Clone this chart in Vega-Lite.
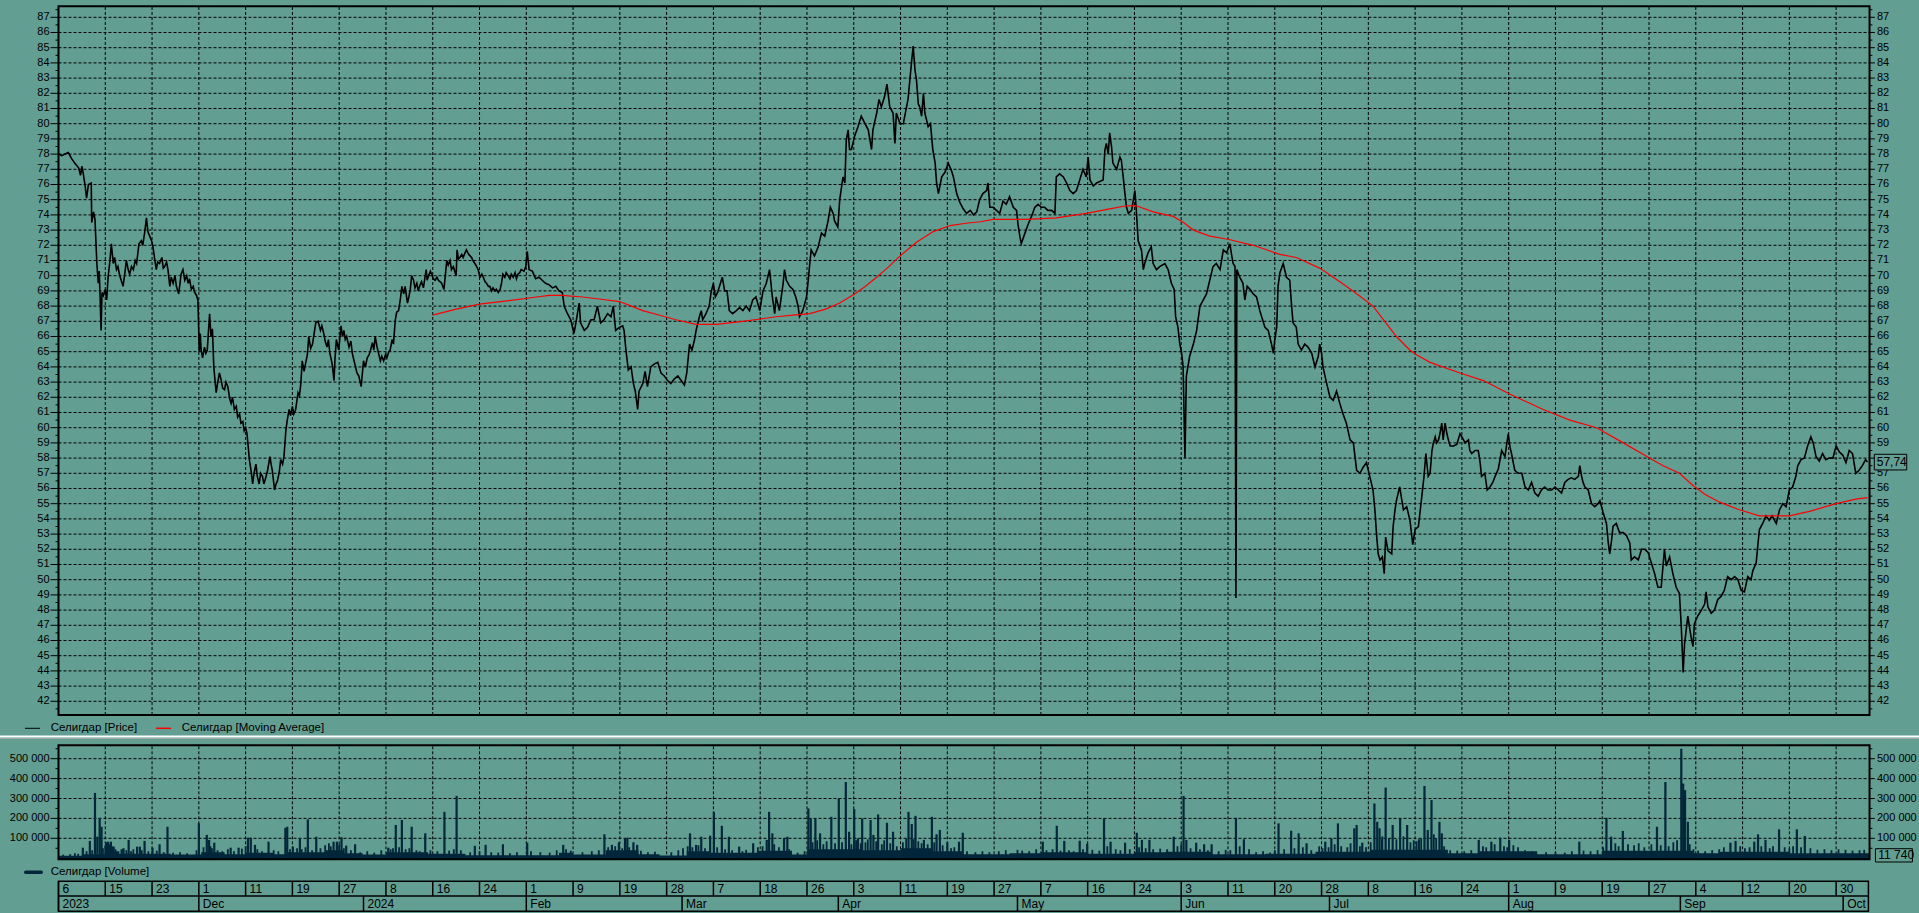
{
"$schema":"https://vega.github.io/schema/vega-lite/v6.json",
"width":1919,"height":913,"padding":0,"autosize":{"type":"none"},
"background":"#639E92",
"config":{"view":{"stroke":null},"text":{"font":"Liberation Sans","fontSize":11,"color":"#000"}},
"datasets":{
"price":[{"k":0,"p":78.0},{"k":0.07,"p":77.9},{"k":0.14,"p":78.0},{"k":0.21,"p":78.1},{"k":0.28,"p":77.7},{"k":0.35,"p":77.4},{"k":0.43,"p":77.1},{"k":0.47,"p":76.6},{"k":0.5,"p":77.2},{"k":0.53,"p":76.7},{"k":0.57,"p":75.9},{"k":0.6,"p":75.1},{"k":0.64,"p":76.0},{"k":0.7,"p":76.1},{"k":0.71,"p":73.5},{"k":0.75,"p":74.2},{"k":0.78,"p":73.7},{"k":0.82,"p":70.8},{"k":0.85,"p":69.5},{"k":0.87,"p":70.3},{"k":0.89,"p":68.6},{"k":0.91,"p":66.4},{"k":0.93,"p":68.9},{"k":0.96,"p":68.7},{"k":1.0,"p":69.1},{"k":1.03,"p":68.4},{"k":1.06,"p":69.9},{"k":1.1,"p":71.0},{"k":1.13,"p":72.1},{"k":1.17,"p":70.8},{"k":1.2,"p":71.2},{"k":1.24,"p":70.4},{"k":1.27,"p":70.6},{"k":1.31,"p":70.0},{"k":1.35,"p":69.6},{"k":1.38,"p":69.3},{"k":1.42,"p":70.2},{"k":1.45,"p":71.0},{"k":1.49,"p":70.4},{"k":1.52,"p":70.1},{"k":1.56,"p":70.6},{"k":1.6,"p":70.4},{"k":1.64,"p":71.0},{"k":1.67,"p":70.8},{"k":1.72,"p":72.1},{"k":1.77,"p":72.3},{"k":1.8,"p":72.0},{"k":1.84,"p":72.8},{"k":1.88,"p":73.8},{"k":1.91,"p":72.9},{"k":1.95,"p":72.6},{"k":1.99,"p":72.3},{"k":2.02,"p":71.9},{"k":2.06,"p":71.0},{"k":2.09,"p":70.4},{"k":2.12,"p":70.9},{"k":2.16,"p":70.8},{"k":2.21,"p":71.2},{"k":2.24,"p":70.5},{"k":2.27,"p":70.6},{"k":2.31,"p":70.9},{"k":2.34,"p":70.4},{"k":2.38,"p":69.3},{"k":2.41,"p":69.9},{"k":2.45,"p":69.5},{"k":2.49,"p":70.0},{"k":2.52,"p":69.3},{"k":2.57,"p":68.8},{"k":2.62,"p":70.1},{"k":2.66,"p":70.4},{"k":2.7,"p":69.7},{"k":2.74,"p":70.0},{"k":2.77,"p":69.5},{"k":2.8,"p":69.8},{"k":2.84,"p":69.1},{"k":2.88,"p":69.3},{"k":2.91,"p":68.9},{"k":2.95,"p":68.7},{"k":2.98,"p":68.4},{"k":3.01,"p":65.0},{"k":3.03,"p":66.2},{"k":3.05,"p":65.1},{"k":3.08,"p":64.6},{"k":3.12,"p":65.3},{"k":3.15,"p":64.9},{"k":3.18,"p":65.1},{"k":3.23,"p":67.5},{"k":3.26,"p":66.0},{"k":3.29,"p":66.5},{"k":3.32,"p":64.0},{"k":3.37,"p":62.3},{"k":3.4,"p":62.9},{"k":3.44,"p":63.6},{"k":3.48,"p":63.1},{"k":3.51,"p":62.6},{"k":3.55,"p":62.5},{"k":3.58,"p":63.0},{"k":3.62,"p":62.7},{"k":3.66,"p":61.9},{"k":3.69,"p":61.6},{"k":3.72,"p":62.0},{"k":3.76,"p":61.2},{"k":3.8,"p":61.4},{"k":3.83,"p":60.7},{"k":3.87,"p":60.9},{"k":3.9,"p":60.3},{"k":3.94,"p":60.4},{"k":3.97,"p":59.8},{"k":4.0,"p":60.0},{"k":4.03,"p":59.6},{"k":4.06,"p":58.6},{"k":4.08,"p":57.9},{"k":4.12,"p":57.1},{"k":4.15,"p":56.3},{"k":4.18,"p":57.0},{"k":4.22,"p":57.6},{"k":4.25,"p":56.8},{"k":4.29,"p":56.3},{"k":4.32,"p":57.0},{"k":4.36,"p":56.8},{"k":4.39,"p":56.3},{"k":4.43,"p":56.7},{"k":4.47,"p":57.2},{"k":4.52,"p":58.1},{"k":4.55,"p":57.5},{"k":4.57,"p":57.2},{"k":4.6,"p":56.4},{"k":4.62,"p":55.9},{"k":4.65,"p":56.3},{"k":4.68,"p":56.5},{"k":4.72,"p":57.1},{"k":4.75,"p":57.9},{"k":4.79,"p":57.6},{"k":4.82,"p":58.1},{"k":4.86,"p":59.8},{"k":4.89,"p":60.5},{"k":4.93,"p":61.2},{"k":4.96,"p":60.8},{"k":5.0,"p":61.4},{"k":5.03,"p":60.9},{"k":5.07,"p":61.2},{"k":5.12,"p":62.3},{"k":5.15,"p":62.1},{"k":5.18,"p":62.9},{"k":5.21,"p":64.4},{"k":5.25,"p":63.7},{"k":5.28,"p":64.2},{"k":5.32,"p":64.8},{"k":5.35,"p":66.0},{"k":5.39,"p":65.2},{"k":5.43,"p":65.5},{"k":5.46,"p":66.1},{"k":5.5,"p":66.9},{"k":5.55,"p":67.0},{"k":5.6,"p":66.4},{"k":5.63,"p":66.7},{"k":5.67,"p":66.2},{"k":5.7,"p":65.7},{"k":5.74,"p":65.3},{"k":5.77,"p":65.8},{"k":5.8,"p":64.9},{"k":5.85,"p":64.2},{"k":5.89,"p":63.1},{"k":5.91,"p":64.5},{"k":5.94,"p":65.8},{"k":5.99,"p":65.1},{"k":6.04,"p":66.7},{"k":6.07,"p":66.0},{"k":6.1,"p":66.4},{"k":6.13,"p":65.8},{"k":6.16,"p":66.0},{"k":6.21,"p":65.3},{"k":6.25,"p":65.7},{"k":6.28,"p":64.9},{"k":6.31,"p":64.5},{"k":6.35,"p":64.0},{"k":6.38,"p":63.6},{"k":6.42,"p":63.4},{"k":6.47,"p":62.7},{"k":6.52,"p":64.4},{"k":6.56,"p":64.0},{"k":6.6,"p":64.6},{"k":6.64,"p":64.8},{"k":6.67,"p":65.1},{"k":6.71,"p":65.6},{"k":6.74,"p":65.1},{"k":6.77,"p":66.0},{"k":6.81,"p":65.3},{"k":6.85,"p":64.8},{"k":6.88,"p":64.4},{"k":6.91,"p":64.7},{"k":6.95,"p":64.4},{"k":6.99,"p":64.8},{"k":7.02,"p":64.6},{"k":7.06,"p":65.0},{"k":7.09,"p":65.1},{"k":7.13,"p":65.8},{"k":7.16,"p":65.5},{"k":7.2,"p":67.1},{"k":7.23,"p":67.6},{"k":7.27,"p":67.7},{"k":7.31,"p":68.5},{"k":7.34,"p":69.3},{"k":7.38,"p":68.8},{"k":7.41,"p":69.3},{"k":7.46,"p":68.2},{"k":7.49,"p":68.6},{"k":7.52,"p":69.1},{"k":7.55,"p":70.0},{"k":7.59,"p":69.7},{"k":7.62,"p":69.2},{"k":7.66,"p":69.5},{"k":7.69,"p":69.0},{"k":7.73,"p":69.4},{"k":7.76,"p":69.6},{"k":7.8,"p":69.2},{"k":7.86,"p":70.4},{"k":7.88,"p":69.7},{"k":7.91,"p":70.0},{"k":7.95,"p":70.3},{"k":7.98,"p":70.1},{"k":8.01,"p":69.8},{"k":8.05,"p":69.7},{"k":8.09,"p":69.9},{"k":8.12,"p":69.7},{"k":8.16,"p":69.6},{"k":8.19,"p":69.5},{"k":8.24,"p":69.1},{"k":8.3,"p":71.0},{"k":8.33,"p":70.7},{"k":8.37,"p":71.0},{"k":8.4,"p":70.4},{"k":8.44,"p":70.6},{"k":8.48,"p":70.2},{"k":8.5,"p":70.0},{"k":8.52,"p":71.7},{"k":8.55,"p":71.1},{"k":8.58,"p":71.2},{"k":8.62,"p":71.4},{"k":8.65,"p":71.2},{"k":8.69,"p":71.5},{"k":8.72,"p":71.7},{"k":8.77,"p":71.4},{"k":8.83,"p":71.2},{"k":8.86,"p":71.0},{"k":8.9,"p":70.8},{"k":8.94,"p":70.6},{"k":8.97,"p":70.4},{"k":9.01,"p":69.9},{"k":9.05,"p":70.1},{"k":9.08,"p":69.9},{"k":9.12,"p":69.6},{"k":9.15,"p":69.5},{"k":9.19,"p":69.3},{"k":9.22,"p":69.3},{"k":9.26,"p":69.0},{"k":9.29,"p":69.2},{"k":9.33,"p":69.0},{"k":9.36,"p":69.1},{"k":9.4,"p":68.9},{"k":9.44,"p":69.1},{"k":9.47,"p":69.5},{"k":9.5,"p":70.1},{"k":9.54,"p":69.9},{"k":9.57,"p":70.2},{"k":9.61,"p":70.0},{"k":9.65,"p":69.8},{"k":9.68,"p":70.1},{"k":9.72,"p":69.9},{"k":9.76,"p":70.2},{"k":9.79,"p":69.8},{"k":9.82,"p":70.1},{"k":9.86,"p":70.2},{"k":9.89,"p":70.4},{"k":9.95,"p":70.3},
{"k":9.99,"p":70.6},{"k":10.02,"p":71.6},{"k":10.06,"p":70.4},{"k":10.13,"p":70.3},{"k":10.2,"p":69.8},{"k":10.27,"p":69.9},{"k":10.34,"p":69.7},{"k":10.41,"p":69.5},{"k":10.49,"p":69.4},{"k":10.56,"p":69.2},{"k":10.63,"p":69.3},{"k":10.7,"p":69.0},{"k":10.77,"p":68.9},{"k":10.81,"p":68.0},{"k":10.88,"p":67.5},{"k":10.95,"p":67.1},{"k":11.02,"p":66.2},{"k":11.06,"p":66.9},{"k":11.13,"p":68.2},{"k":11.16,"p":66.9},{"k":11.24,"p":66.4},{"k":11.31,"p":66.6},{"k":11.38,"p":67.1},{"k":11.45,"p":67.1},{"k":11.52,"p":68.0},{"k":11.59,"p":66.9},{"k":11.66,"p":67.1},{"k":11.74,"p":67.5},{"k":11.81,"p":67.3},{"k":11.86,"p":68.0},{"k":11.91,"p":66.4},{"k":11.99,"p":66.6},{"k":12.06,"p":66.7},{"k":12.09,"p":66.4},{"k":12.13,"p":65.1},{"k":12.18,"p":63.8},{"k":12.24,"p":64.0},{"k":12.29,"p":62.9},{"k":12.33,"p":62.4},{"k":12.38,"p":61.2},{"k":12.41,"p":62.4},{"k":12.49,"p":62.9},{"k":12.54,"p":63.7},{"k":12.59,"p":62.7},{"k":12.66,"p":64.0},{"k":12.74,"p":64.2},{"k":12.81,"p":64.3},{"k":12.88,"p":63.6},{"k":12.95,"p":63.4},{"k":13.02,"p":63.1},{"k":13.09,"p":62.9},{"k":13.16,"p":63.2},{"k":13.24,"p":63.4},{"k":13.31,"p":63.1},{"k":13.38,"p":62.8},{"k":13.43,"p":63.6},{"k":13.49,"p":65.5},{"k":13.54,"p":65.1},{"k":13.59,"p":65.7},{"k":13.63,"p":66.4},{"k":13.66,"p":66.8},{"k":13.7,"p":67.3},{"k":13.74,"p":67.7},{"k":13.77,"p":67.1},{"k":13.84,"p":67.5},{"k":13.91,"p":68.0},{"k":13.95,"p":68.9},{"k":14.0,"p":69.5},{"k":14.04,"p":68.6},{"k":14.09,"p":68.9},{"k":14.13,"p":69.3},{"k":14.19,"p":69.9},{"k":14.24,"p":69.0},{"k":14.29,"p":69.0},{"k":14.34,"p":67.7},{"k":14.41,"p":67.5},{"k":14.49,"p":67.7},{"k":14.56,"p":67.9},{"k":14.63,"p":67.7},{"k":14.7,"p":68.0},{"k":14.77,"p":67.7},{"k":14.84,"p":68.4},{"k":14.91,"p":68.6},{"k":14.99,"p":67.7},{"k":15.06,"p":69.0},{"k":15.13,"p":69.5},{"k":15.2,"p":70.4},{"k":15.26,"p":68.6},{"k":15.31,"p":67.5},{"k":15.34,"p":68.6},{"k":15.41,"p":67.7},{"k":15.49,"p":69.5},{"k":15.52,"p":70.4},{"k":15.56,"p":69.7},{"k":15.63,"p":69.3},{"k":15.7,"p":69.1},{"k":15.76,"p":68.6},{"k":15.81,"p":68.0},{"k":15.84,"p":67.3},{"k":15.91,"p":67.7},{"k":15.99,"p":68.6},{"k":16.02,"p":69.5},{"k":16.06,"p":70.8},{"k":16.09,"p":71.7},{"k":16.16,"p":71.3},{"k":16.24,"p":71.9},{"k":16.31,"p":72.8},{"k":16.38,"p":72.6},{"k":16.45,"p":73.6},{"k":16.5,"p":74.5},{"k":16.56,"p":74.1},{"k":16.59,"p":73.6},{"k":16.66,"p":73.2},{"k":16.7,"p":75.0},{"k":16.77,"p":76.5},{"k":16.81,"p":76.1},{"k":16.84,"p":78.9},{"k":16.88,"p":79.6},{"k":16.91,"p":78.3},{"k":16.95,"p":78.3},{"k":17.02,"p":79.2},{"k":17.09,"p":79.8},{"k":17.16,"p":80.5},{"k":17.24,"p":80.0},{"k":17.31,"p":79.6},{"k":17.38,"p":78.3},{"k":17.41,"p":79.6},{"k":17.49,"p":80.7},{"k":17.54,"p":81.6},{"k":17.59,"p":81.1},{"k":17.66,"p":81.8},{"k":17.71,"p":82.6},{"k":17.77,"p":81.1},{"k":17.84,"p":80.7},{"k":17.88,"p":78.7},{"k":17.91,"p":80.7},{"k":17.99,"p":80.0},{"k":18.06,"p":80.0},{"k":18.09,"p":80.5},{"k":18.16,"p":81.6},{"k":18.2,"p":82.9},{"k":18.24,"p":84.2},{"k":18.27,"p":85.1},{"k":18.31,"p":83.5},{"k":18.34,"p":82.9},{"k":18.38,"p":81.3},{"k":18.41,"p":81.1},{"k":18.45,"p":80.5},{"k":18.49,"p":82.0},{"k":18.52,"p":80.7},{"k":18.59,"p":79.8},{"k":18.64,"p":80.0},{"k":18.69,"p":78.3},{"k":18.74,"p":77.4},{"k":18.77,"p":76.1},{"k":18.81,"p":75.4},{"k":18.88,"p":76.5},{"k":18.95,"p":76.8},{"k":19.02,"p":77.4},{"k":19.09,"p":76.9},{"k":19.13,"p":76.5},{"k":19.2,"p":75.4},{"k":19.27,"p":74.8},{"k":19.34,"p":74.4},{"k":19.41,"p":74.1},{"k":19.49,"p":74.3},{"k":19.56,"p":74.0},{"k":19.63,"p":74.2},
{"k":19.69,"p":75.0},{"k":19.76,"p":75.4},{"k":19.84,"p":75.6},{"k":19.87,"p":76.1},{"k":19.91,"p":74.5},{"k":19.98,"p":74.5},{"k":20.05,"p":74.3},{"k":20.12,"p":74.1},{"k":20.19,"p":74.9},{"k":20.26,"p":74.7},{"k":20.33,"p":75.2},{"k":20.41,"p":74.5},{"k":20.48,"p":74.3},{"k":20.51,"p":73.4},{"k":20.55,"p":72.6},{"k":20.58,"p":72.1},{"k":20.66,"p":72.8},{"k":20.73,"p":73.4},{"k":20.8,"p":73.9},{"k":20.87,"p":74.5},{"k":20.94,"p":74.7},{"k":21.01,"p":74.5},{"k":21.08,"p":74.5},{"k":21.15,"p":74.3},{"k":21.23,"p":74.3},{"k":21.3,"p":74.1},{"k":21.33,"p":76.5},{"k":21.4,"p":76.7},{"k":21.48,"p":76.5},{"k":21.55,"p":76.1},{"k":21.62,"p":75.6},{"k":21.69,"p":75.4},{"k":21.76,"p":75.6},{"k":21.83,"p":76.3},{"k":21.9,"p":77.0},{"k":21.97,"p":76.5},{"k":22.01,"p":77.8},{"k":22.05,"p":76.3},{"k":22.12,"p":75.9},{"k":22.19,"p":76.1},{"k":22.26,"p":76.2},{"k":22.33,"p":76.3},{"k":22.37,"p":78.3},{"k":22.4,"p":78.7},{"k":22.44,"p":78.0},{"k":22.47,"p":79.4},{"k":22.51,"p":78.5},{"k":22.54,"p":77.4},{"k":22.62,"p":77.0},{"k":22.69,"p":77.8},{"k":22.72,"p":77.6},{"k":22.76,"p":76.5},{"k":22.79,"p":75.6},{"k":22.83,"p":74.5},{"k":22.87,"p":74.1},{"k":22.94,"p":74.3},{"k":23.01,"p":75.6},{"k":23.04,"p":74.3},{"k":23.08,"p":72.3},{"k":23.15,"p":71.7},{"k":23.19,"p":70.4},{"k":23.22,"p":70.8},{"k":23.29,"p":71.5},{"k":23.36,"p":71.9},{"k":23.4,"p":70.8},{"k":23.47,"p":70.4},{"k":23.54,"p":70.6},{"k":23.65,"p":70.8},{"k":23.72,"p":70.4},{"k":23.79,"p":69.5},{"k":23.85,"p":69.1},{"k":23.88,"p":67.3},{"k":23.93,"p":66.6},{"k":23.97,"p":65.5},{"k":24.01,"p":64.9},{"k":24.04,"p":64.0},{"k":24.08,"p":58.0},{"k":24.11,"p":63.4},{"k":24.18,"p":64.7},{"k":24.26,"p":65.5},{"k":24.33,"p":66.4},{"k":24.4,"p":68.0},{"k":24.47,"p":68.4},{"k":24.54,"p":68.8},{"k":24.61,"p":69.7},{"k":24.68,"p":70.6},{"k":24.75,"p":70.8},{"k":24.83,"p":70.4},{"k":24.9,"p":71.7},{"k":24.97,"p":71.5},{"k":25.04,"p":72.1},{"k":25.07,"p":71.5},{"k":25.11,"p":70.8},{"k":25.15,"p":70.6},{"k":25.17,"p":48.8},{"k":25.19,"p":70.4},{"k":25.25,"p":69.9},{"k":25.32,"p":69.5},{"k":25.36,"p":68.4},{"k":25.41,"p":69.3},{"k":25.47,"p":69.1},{"k":25.54,"p":68.8},{"k":25.61,"p":68.6},{"k":25.68,"p":67.7},{"k":25.72,"p":67.3},{"k":25.79,"p":66.6},{"k":25.86,"p":66.4},{"k":25.93,"p":65.5},{"k":25.97,"p":64.9},{"k":26.0,"p":65.8},{"k":26.04,"p":66.6},{"k":26.07,"p":69.3},{"k":26.11,"p":70.2},{"k":26.18,"p":70.8},{"k":26.25,"p":69.9},{"k":26.32,"p":69.7},{"k":26.36,"p":68.0},{"k":26.39,"p":66.9},{"k":26.46,"p":66.6},{"k":26.5,"p":65.5},{"k":26.57,"p":65.1},{"k":26.64,"p":65.5},{"k":26.71,"p":65.3},{"k":26.79,"p":64.9},{"k":26.86,"p":64.0},{"k":26.93,"p":64.7},{"k":26.96,"p":65.5},{"k":27.0,"p":64.9},{"k":27.03,"p":64.0},{"k":27.11,"p":62.9},{"k":27.18,"p":62.0},{"k":27.25,"p":61.8},{"k":27.32,"p":62.4},{"k":27.39,"p":61.6},{"k":27.46,"p":60.9},{"k":27.53,"p":60.3},{"k":27.61,"p":59.2},{"k":27.68,"p":59.0},{"k":27.75,"p":57.2},{"k":27.82,"p":57.0},{"k":27.89,"p":57.4},{"k":27.96,"p":57.7},{"k":28.03,"p":56.8},{"k":28.1,"p":55.9},{"k":28.14,"p":54.6},{"k":28.18,"p":52.8},{"k":28.21,"p":51.7},{"k":28.25,"p":51.3},{"k":28.3,"p":51.5},{"k":28.34,"p":50.4},{"k":28.37,"p":52.8},{"k":28.42,"p":51.9},{"k":28.5,"p":51.7},{"k":28.53,"p":53.5},{"k":28.57,"p":54.6},{"k":28.6,"p":55.2},{"k":28.67,"p":56.1},{"k":28.75,"p":54.6},{"k":28.82,"p":54.8},{"k":28.89,"p":53.9},{"k":28.95,"p":52.3},{"k":29.0,"p":53.3},{"k":29.07,"p":53.5},{"k":29.14,"p":55.4},{"k":29.19,"p":56.8},{"k":29.23,"p":58.3},
{"k":29.28,"p":56.8},{"k":29.32,"p":57.0},{"k":29.36,"p":58.5},{"k":29.39,"p":59.0},{"k":29.43,"p":59.4},{"k":29.46,"p":59.0},{"k":29.5,"p":59.2},{"k":29.53,"p":59.6},{"k":29.57,"p":60.3},{"k":29.6,"p":59.2},{"k":29.64,"p":60.3},{"k":29.68,"p":59.6},{"k":29.71,"p":59.2},{"k":29.75,"p":58.8},{"k":29.82,"p":58.8},{"k":29.89,"p":58.9},{"k":29.96,"p":59.6},{"k":30.0,"p":59.4},{"k":30.07,"p":59.0},{"k":30.14,"p":59.2},{"k":30.17,"p":58.5},{"k":30.21,"p":58.3},{"k":30.28,"p":58.5},{"k":30.35,"p":58.5},{"k":30.39,"p":57.7},{"k":30.42,"p":56.8},{"k":30.49,"p":57.0},{"k":30.54,"p":55.9},{"k":30.6,"p":56.1},{"k":30.66,"p":56.4},{"k":30.71,"p":56.8},{"k":30.78,"p":57.3},{"k":30.85,"p":58.5},{"k":30.92,"p":58.1},{"k":30.99,"p":59.6},{"k":31.03,"p":58.7},{"k":31.06,"p":58.3},{"k":31.13,"p":57.2},{"k":31.2,"p":57.0},{"k":31.28,"p":57.0},{"k":31.35,"p":56.1},{"k":31.42,"p":55.9},{"k":31.49,"p":56.4},{"k":31.56,"p":55.7},{"k":31.63,"p":55.5},{"k":31.7,"p":55.9},{"k":31.77,"p":56.1},{"k":31.84,"p":55.9},{"k":31.92,"p":55.9},{"k":31.99,"p":56.1},{"k":32.06,"p":55.9},{"k":32.13,"p":55.7},{"k":32.2,"p":56.4},{"k":32.27,"p":56.6},{"k":32.34,"p":56.7},{"k":32.41,"p":56.6},{"k":32.49,"p":56.8},{"k":32.52,"p":57.5},{"k":32.56,"p":56.8},{"k":32.59,"p":56.4},{"k":32.63,"p":56.1},{"k":32.7,"p":55.9},{"k":32.77,"p":55.0},{"k":32.84,"p":54.8},{"k":32.91,"p":55.0},{"k":32.95,"p":55.2},{"k":33.02,"p":54.4},{"k":33.09,"p":53.7},{"k":33.13,"p":52.4},{"k":33.16,"p":51.7},{"k":33.2,"p":52.6},{"k":33.23,"p":53.5},{"k":33.3,"p":53.7},{"k":33.37,"p":53.1},{"k":33.45,"p":53.1},{"k":33.52,"p":52.9},{"k":33.59,"p":52.4},{"k":33.62,"p":51.3},{"k":33.69,"p":51.5},{"k":33.77,"p":51.3},{"k":33.84,"p":52.0},{"k":33.91,"p":52.0},{"k":33.98,"p":51.8},{"k":34.05,"p":51.1},{"k":34.12,"p":50.4},{"k":34.19,"p":49.5},{"k":34.26,"p":49.5},{"k":34.33,"p":52.0},{"k":34.37,"p":50.9},{"k":34.44,"p":51.5},{"k":34.51,"p":50.4},{"k":34.58,"p":49.5},{"k":34.65,"p":49.1},{"k":34.69,"p":46.9},{"k":34.73,"p":43.9},{"k":34.76,"p":45.8},{"k":34.83,"p":47.6},{"k":34.9,"p":46.2},{"k":34.94,"p":45.6},{"k":34.97,"p":47.1},{"k":35.04,"p":47.6},{"k":35.12,"p":48.0},{"k":35.19,"p":48.4},{"k":35.22,"p":49.2},{"k":35.26,"p":48.2},{"k":35.33,"p":47.8},{"k":35.4,"p":48.0},{"k":35.47,"p":48.7},{"k":35.54,"p":48.9},{"k":35.61,"p":49.3},{"k":35.68,"p":50.2},{"k":35.76,"p":50.0},{"k":35.83,"p":50.2},{"k":35.9,"p":50.0},{"k":35.97,"p":49.3},{"k":36.04,"p":49.2},{"k":36.11,"p":50.2},{"k":36.18,"p":50.0},{"k":36.22,"p":50.6},{"k":36.29,"p":51.1},{"k":36.33,"p":52.4},{"k":36.36,"p":53.3},{"k":36.43,"p":53.7},{"k":36.5,"p":54.2},{"k":36.57,"p":53.9},{"k":36.63,"p":54.2},{"k":36.72,"p":53.7},{"k":36.79,"p":54.6},{"k":36.86,"p":55.0},{"k":36.93,"p":54.8},{"k":37.0,"p":55.9},{"k":37.07,"p":56.1},{"k":37.14,"p":56.8},{"k":37.18,"p":57.5},{"k":37.25,"p":57.9},{"k":37.32,"p":58.0},{"k":37.39,"p":58.8},{"k":37.46,"p":59.4},{"k":37.51,"p":59.0},{"k":37.57,"p":58.1},{"k":37.64,"p":57.8},{"k":37.71,"p":58.3},{"k":37.78,"p":57.9},{"k":37.85,"p":58.0},{"k":37.93,"p":58.0},{"k":38.0,"p":58.8},{"k":38.07,"p":58.4},{"k":38.14,"p":58.2},{"k":38.21,"p":57.7},{"k":38.28,"p":58.5},{"k":38.35,"p":58.3},{"k":38.42,"p":57.0},{"k":38.49,"p":57.2},{"k":38.56,"p":57.5},{"k":38.63,"p":57.9},{"k":38.67,"p":57.74}],
"ma":[{"k":8.0,"m":67.41},{"k":8.5,"m":67.8},{"k":9.0,"m":68.13},{"k":9.63,"m":68.36},{"k":10.1,"m":68.55},{"k":10.49,"m":68.7},{"k":10.77,"m":68.7},{"k":11.2,"m":68.6},{"k":11.6,"m":68.45},{"k":11.99,"m":68.3},{"k":12.25,"m":68.0},{"k":12.49,"m":67.7},{"k":12.85,"m":67.4},{"k":13.2,"m":67.1},{"k":13.63,"m":66.8},{"k":14.06,"m":66.8},{"k":14.63,"m":67.0},{"k":15.0,"m":67.15},{"k":15.34,"m":67.3},{"k":15.7,"m":67.4},{"k":16.06,"m":67.5},{"k":16.4,"m":67.8},{"k":16.7,"m":68.2},{"k":17.02,"m":68.8},{"k":17.25,"m":69.3},{"k":17.49,"m":69.9},{"k":17.75,"m":70.6},{"k":17.99,"m":71.3},{"k":18.34,"m":72.2},{"k":18.7,"m":72.9},{"k":19.06,"m":73.3},{"k":19.4,"m":73.45},{"k":19.7,"m":73.55},{"k":19.98,"m":73.7},{"k":20.69,"m":73.7},{"k":21.33,"m":73.8},{"k":21.97,"m":74.1},{"k":22.47,"m":74.4},{"k":22.83,"m":74.6},{"k":23.04,"m":74.6},{"k":23.4,"m":74.2},{"k":23.83,"m":73.9},{"k":24.05,"m":73.5},{"k":24.26,"m":73.0},{"k":24.61,"m":72.6},{"k":25.0,"m":72.4},{"k":25.54,"m":72.0},{"k":26.11,"m":71.4},{"k":26.46,"m":71.2},{"k":26.96,"m":70.5},{"k":27.25,"m":69.9},{"k":27.53,"m":69.3},{"k":27.8,"m":68.7},{"k":28.1,"m":68.0},{"k":28.35,"m":67.0},{"k":28.6,"m":66.0},{"k":28.89,"m":65.1},{"k":29.03,"m":64.8},{"k":29.32,"m":64.3},{"k":29.96,"m":63.6},{"k":30.46,"m":63.1},{"k":31.03,"m":62.2},{"k":31.74,"m":61.2},{"k":32.31,"m":60.5},{"k":32.88,"m":60.0},{"k":33.45,"m":59.0},{"k":34.01,"m":58.0},{"k":34.3,"m":57.5},{"k":34.65,"m":57.0},{"k":34.94,"m":56.2},{"k":35.2,"m":55.6},{"k":35.51,"m":55.1},{"k":35.93,"m":54.6},{"k":36.36,"m":54.2},{"k":37.0,"m":54.2},{"k":37.43,"m":54.5},{"k":38.0,"m":55.0},{"k":38.42,"m":55.3},{"k":38.67,"m":55.4}],
"volbase":[{"k":0,"v":12000},{"k":0.5,"v":20000},{"k":1.0,"v":35000},{"k":1.3,"v":22000},{"k":2.4,"v":18000},{"k":3.05,"v":30000},{"k":3.55,"v":20000},{"k":4.0,"v":28000},{"k":4.6,"v":20000},{"k":4.9,"v":30000},{"k":5.7,"v":40000},{"k":6.1,"v":25000},{"k":6.5,"v":18000},{"k":7.0,"v":30000},{"k":7.9,"v":22000},{"k":8.7,"v":15000},{"k":10.7,"v":28000},{"k":11.0,"v":18000},{"k":11.7,"v":40000},{"k":12.4,"v":20000},{"k":12.85,"v":14000},{"k":13.43,"v":35000},{"k":13.93,"v":28000},{"k":14.93,"v":38000},{"k":15.68,"v":18000},{"k":16.01,"v":45000},{"k":17.17,"v":40000},{"k":18.0,"v":50000},{"k":18.67,"v":35000},{"k":19.33,"v":20000},{"k":20.33,"v":25000},{"k":21.0,"v":30000},{"k":22.0,"v":22000},{"k":23.0,"v":30000},{"k":23.66,"v":33000},{"k":24.65,"v":20000},{"k":25.8,"v":22000},{"k":26.87,"v":33000},{"k":28.04,"v":42000},{"k":29.7,"v":25000},{"k":30.36,"v":35000},{"k":31.61,"v":20000},{"k":33.02,"v":38000},{"k":34.94,"v":25000},{"k":35.52,"v":33000},{"k":37.01,"v":25000},{"k":38.714,"v":25000}],
"volmid":[{"k":0.1,"v":18000},{"k":0.25,"v":20000},{"k":0.35,"v":25000},{"k":0.42,"v":22000},{"k":0.6,"v":35000},{"k":0.72,"v":40000},{"k":0.95,"v":50000},{"k":1.0,"v":65000},{"k":1.1,"v":70000},{"k":1.15,"v":60000},{"k":1.22,"v":45000},{"k":1.45,"v":40000},{"k":1.55,"v":35000},{"k":1.6,"v":45000},{"k":1.78,"v":40000},{"k":1.92,"v":35000},{"k":2.1,"v":38000},{"k":2.25,"v":30000},{"k":2.45,"v":28000},{"k":2.6,"v":30000},{"k":2.75,"v":25000},{"k":2.95,"v":40000},{"k":3.1,"v":55000},{"k":3.25,"v":60000},{"k":3.28,"v":50000},{"k":3.4,"v":40000},{"k":3.5,"v":35000},{"k":3.62,"v":45000},{"k":3.75,"v":35000},{"k":3.92,"v":48000},{"k":4.0,"v":60000},{"k":4.25,"v":45000},{"k":4.35,"v":35000},{"k":4.6,"v":40000},{"k":4.7,"v":35000},{"k":4.95,"v":45000},{"k":5.1,"v":50000},{"k":5.2,"v":45000},{"k":5.28,"v":55000},{"k":5.42,"v":40000},{"k":5.6,"v":50000},{"k":5.7,"v":65000},{"k":5.78,"v":75000},{"k":5.82,"v":60000},{"k":6.0,"v":70000},{"k":6.1,"v":50000},{"k":6.25,"v":40000},{"k":6.45,"v":30000},{"k":6.6,"v":35000},{"k":6.75,"v":28000},{"k":6.9,"v":40000},{"k":7.1,"v":45000},{"k":7.15,"v":50000},{"k":7.28,"v":55000},{"k":7.42,"v":45000},{"k":7.5,"v":50000},{"k":7.65,"v":40000},{"k":7.72,"v":35000},{"k":7.95,"v":40000},{"k":8.1,"v":35000},{"k":8.35,"v":38000},{"k":8.45,"v":45000},{"k":8.6,"v":40000},{"k":8.8,"v":30000},{"k":9.0,"v":35000},{"k":9.25,"v":30000},{"k":9.4,"v":28000},{"k":9.65,"v":25000},{"k":9.8,"v":30000},{"k":10.1,"v":35000},{"k":10.3,"v":30000},{"k":10.5,"v":28000},{"k":10.65,"v":40000},{"k":10.85,"v":45000},{"k":10.95,"v":38000},{"k":11.2,"v":30000},{"k":11.4,"v":35000},{"k":11.55,"v":40000},{"k":11.75,"v":55000},{"k":11.9,"v":60000},{"k":12.05,"v":50000},{"k":12.2,"v":55000},{"k":12.45,"v":38000},{"k":12.6,"v":30000},{"k":12.75,"v":32000},{"k":13.1,"v":30000},{"k":13.25,"v":40000},{"k":13.35,"v":50000},{"k":13.45,"v":60000},{"k":13.55,"v":55000},{"k":13.68,"v":65000},{"k":13.82,"v":50000},{"k":14.08,"v":55000},{"k":14.25,"v":45000},{"k":14.4,"v":40000},{"k":14.62,"v":35000},{"k":14.7,"v":42000},{"k":14.95,"v":55000},{"k":15.05,"v":60000},{"k":15.3,"v":70000},{"k":15.4,"v":55000},{"k":15.62,"v":45000},{"k":15.8,"v":28000},{"k":15.95,"v":35000},{"k":16.12,"v":80000},{"k":16.22,"v":90000},{"k":16.35,"v":70000},{"k":16.42,"v":85000},{"k":16.6,"v":75000},{"k":16.75,"v":80000},{"k":16.95,"v":70000},{"k":17.05,"v":90000},{"k":17.15,"v":75000},{"k":17.25,"v":80000},{"k":17.3,"v":95000},{"k":17.48,"v":85000},{"k":17.6,"v":70000},{"k":17.65,"v":90000},{"k":17.78,"v":75000},{"k":17.92,"v":60000},{"k":18.05,"v":80000},{"k":18.12,"v":100000},{"k":18.28,"v":95000},{"k":18.38,"v":85000},{"k":18.45,"v":75000},{"k":18.58,"v":70000},{"k":18.72,"v":80000},{"k":18.9,"v":65000},{"k":19.08,"v":50000},{"k":19.15,"v":55000},{"k":19.42,"v":35000},{"k":19.6,"v":30000},{"k":19.75,"v":35000},{"k":19.9,"v":30000},{"k":20.1,"v":35000},{"k":20.25,"v":40000},{"k":20.5,"v":42000},{"k":20.6,"v":38000},{"k":20.75,"v":35000},{"k":20.9,"v":45000},{"k":21.12,"v":40000},{"k":21.25,"v":45000},{"k":21.42,"v":38000},{"k":21.6,"v":40000},{"k":21.7,"v":35000},{"k":21.9,"v":45000},{"k":22.1,"v":42000},{"k":22.25,"v":38000},{"k":22.42,"v":60000},{"k":22.6,"v":45000},{"k":22.7,"v":40000},{"k":22.9,"v":45000},{"k":23.1,"v":55000},{"k":23.24,"v":50000},{"k":23.4,"v":45000},{"k":23.55,"v":48000},{"k":23.7,"v":45000},{"k":23.92,"v":60000},{"k":24.0,"v":70000},{"k":24.2,"v":50000},{"k":24.4,"v":45000},{"k":24.57,"v":40000},{"k":24.8,"v":35000},{"k":24.95,"v":42000},{"k":25.05,"v":40000},{"k":25.25,"v":60000},{"k":25.45,"v":45000},{"k":25.6,"v":30000},{"k":25.75,"v":35000},{"k":25.9,"v":28000},{"k":26.0,"v":40000},{"k":26.2,"v":45000},{"k":26.42,"v":50000},{"k":26.6,"v":55000},{"k":26.78,"v":40000},{"k":26.95,"v":60000},{"k":27.02,"v":50000},{"k":27.15,"v":55000},{"k":27.28,"v":70000},{"k":27.42,"v":60000},{"k":27.55,"v":55000},{"k":27.62,"v":75000},{"k":27.82,"v":60000},{"k":27.95,"v":55000},{"k":28.05,"v":80000},{"k":28.29,"v":95000},{"k":28.3,"v":110000},{"k":28.44,"v":100000},{"k":28.6,"v":95000},{"k":28.75,"v":110000},{"k":28.9,"v":80000},{"k":28.97,"v":90000},{"k":29.03,"v":85000},{"k":29.13,"v":100000},{"k":29.4,"v":120000},{"k":29.45,"v":100000},{"k":29.62,"v":60000},{"k":29.75,"v":40000},{"k":29.9,"v":38000},{"k":30.05,"v":35000},{"k":30.2,"v":40000},{"k":30.45,"v":60000},{"k":30.52,"v":55000},{"k":30.7,"v":70000},{"k":30.9,"v":60000},{"k":30.97,"v":55000},{"k":31.1,"v":65000},{"k":31.2,"v":55000},{"k":31.35,"v":40000},{"k":31.5,"v":35000},{"k":31.8,"v":30000},{"k":32.0,"v":32000},{"k":32.2,"v":28000},{"k":32.35,"v":35000},{"k":32.6,"v":38000},{"k":32.75,"v":35000},{"k":32.9,"v":40000},{"k":33.02,"v":55000},{"k":33.28,"v":75000},{"k":33.35,"v":60000},{"k":33.55,"v":70000},{"k":33.68,"v":65000},{"k":33.78,"v":75000},{"k":33.9,"v":55000},{"k":34.05,"v":70000},{"k":34.25,"v":65000},{"k":34.42,"v":60000},{"k":34.52,"v":80000},{"k":34.6,"v":90000},{"k":34.87,"v":70000},{"k":34.95,"v":45000},{"k":35.05,"v":38000},{"k":35.2,"v":35000},{"k":35.35,"v":40000},{"k":35.5,"v":45000},{"k":35.6,"v":55000},{"k":35.95,"v":60000},{"k":36.05,"v":50000},{"k":36.15,"v":55000},{"k":36.4,"v":60000},{"k":36.58,"v":50000},{"k":36.65,"v":60000},{"k":36.9,"v":55000},{"k":37.0,"v":48000},{"k":37.08,"v":60000},{"k":37.25,"v":55000},{"k":37.45,"v":50000},{"k":37.6,"v":42000},{"k":37.75,"v":45000},{"k":37.9,"v":40000},{"k":38.05,"v":45000},{"k":38.2,"v":42000},{"k":38.35,"v":38000},{"k":38.5,"v":40000},{"k":38.6,"v":42000}],
"volspike":[{"k":0.52,"v":53000},{"k":0.67,"v":87000},{"k":0.78,"v":328000},{"k":0.83,"v":108000},{"k":0.88,"v":203000},{"k":0.92,"v":158000},{"k":1.02,"v":80000},{"k":1.06,"v":83000},{"k":1.12,"v":83000},{"k":1.18,"v":58000},{"k":1.35,"v":45000},{"k":1.39,"v":50000},{"k":1.5,"v":92000},{"k":1.68,"v":58000},{"k":1.74,"v":58000},{"k":1.84,"v":87000},{"k":2.01,"v":53000},{"k":2.16,"v":70000},{"k":2.33,"v":158000},{"k":3.0,"v":175000},{"k":3.17,"v":117000},{"k":3.22,"v":92000},{"k":3.33,"v":78000},{"k":3.68,"v":53000},{"k":3.85,"v":53000},{"k":4.05,"v":103000},{"k":4.11,"v":103000},{"k":4.2,"v":67000},{"k":4.49,"v":83000},{"k":4.85,"v":153000},{"k":4.89,"v":158000},{"k":5.01,"v":58000},{"k":5.16,"v":100000},{"k":5.33,"v":195000},{"k":5.51,"v":108000},{"k":5.88,"v":83000},{"k":5.95,"v":83000},{"k":6.05,"v":105000},{"k":6.15,"v":63000},{"k":6.34,"v":70000},{"k":7.05,"v":53000},{"k":7.21,"v":167000},{"k":7.34,"v":192000},{"k":7.55,"v":158000},{"k":7.84,"v":125000},{"k":8.25,"v":233000},{"k":8.51,"v":313000},{"k":8.9,"v":62000},{"k":9.13,"v":67000},{"k":9.5,"v":70000},{"k":10.02,"v":78000},{"k":10.79,"v":67000},{"k":11.67,"v":120000},{"k":11.83,"v":67000},{"k":11.98,"v":80000},{"k":12.11,"v":97000},{"k":12.16,"v":103000},{"k":12.29,"v":80000},{"k":12.37,"v":67000},{"k":13.5,"v":125000},{"k":13.63,"v":67000},{"k":13.74,"v":108000},{"k":13.93,"v":113000},{"k":14.01,"v":233000},{"k":14.18,"v":163000},{"k":14.33,"v":108000},{"k":14.55,"v":58000},{"k":14.85,"v":75000},{"k":15.14,"v":92000},{"k":15.19,"v":233000},{"k":15.26,"v":125000},{"k":15.51,"v":100000},{"k":15.58,"v":108000},{"k":16.03,"v":250000},{"k":16.08,"v":200000},{"k":16.18,"v":197000},{"k":16.28,"v":125000},{"k":16.52,"v":208000},{"k":16.68,"v":300000},{"k":16.83,"v":383000},{"k":16.9,"v":133000},{"k":17.01,"v":247000},{"k":17.09,"v":100000},{"k":17.18,"v":200000},{"k":17.36,"v":192000},{"k":17.42,"v":117000},{"k":17.52,"v":220000},{"k":17.71,"v":178000},{"k":17.84,"v":133000},{"k":18.17,"v":233000},{"k":18.24,"v":172000},{"k":18.32,"v":213000},{"k":18.5,"v":92000},{"k":18.67,"v":208000},{"k":18.77,"v":120000},{"k":18.84,"v":142000},{"k":19.0,"v":80000},{"k":19.25,"v":83000},{"k":19.33,"v":128000},{"k":21.04,"v":83000},{"k":21.34,"v":163000},{"k":21.5,"v":87000},{"k":21.83,"v":88000},{"k":21.99,"v":72000},{"k":22.35,"v":200000},{"k":22.49,"v":83000},{"k":22.8,"v":78000},{"k":23.05,"v":128000},{"k":23.16,"v":92000},{"k":23.32,"v":92000},{"k":23.84,"v":108000},{"k":24.05,"v":313000},{"k":24.11,"v":92000},{"k":24.32,"v":78000},{"k":24.49,"v":70000},{"k":24.65,"v":70000},{"k":25.17,"v":203000},{"k":25.34,"v":95000},{"k":26.08,"v":175000},{"k":26.35,"v":138000},{"k":26.51,"v":125000},{"k":26.68,"v":75000},{"k":27.08,"v":83000},{"k":27.21,"v":100000},{"k":27.35,"v":175000},{"k":27.7,"v":150000},{"k":27.75,"v":167000},{"k":27.87,"v":78000},{"k":28.13,"v":275000},{"k":28.19,"v":183000},{"k":28.24,"v":150000},{"k":28.37,"v":355000},{"k":28.52,"v":167000},{"k":28.68,"v":200000},{"k":28.83,"v":167000},{"k":29.08,"v":95000},{"k":29.2,"v":363000},{"k":29.27,"v":142000},{"k":29.35,"v":292000},{"k":29.52,"v":183000},{"k":29.57,"v":125000},{"k":30.36,"v":92000},{"k":30.63,"v":83000},{"k":30.82,"v":103000},{"k":31.01,"v":92000},{"k":32.51,"v":83000},{"k":33.09,"v":203000},{"k":33.19,"v":108000},{"k":33.44,"v":137000},{"k":34.17,"v":158000},{"k":34.35,"v":383000},{"k":34.69,"v":550000},{"k":34.73,"v":375000},{"k":34.77,"v":342000},{"k":34.83,"v":183000},{"k":35.74,"v":78000},{"k":35.85,"v":87000},{"k":36.25,"v":83000},{"k":36.33,"v":120000},{"k":36.49,"v":92000},{"k":36.78,"v":145000},{"k":37.16,"v":145000},{"k":37.33,"v":112000}],
"pticks":[{"p":42},{"p":43},{"p":44},{"p":45},{"p":46},{"p":47},{"p":48},{"p":49},{"p":50},{"p":51},{"p":52},{"p":53},{"p":54},{"p":55},{"p":56},{"p":57},{"p":58},{"p":59},{"p":60},{"p":61},{"p":62},{"p":63},{"p":64},{"p":65},{"p":66},{"p":67},{"p":68},{"p":69},{"p":70},{"p":71},{"p":72},{"p":73},{"p":74},{"p":75},{"p":76},{"p":77},{"p":78},{"p":79},{"p":80},{"p":81},{"p":82},{"p":83},{"p":84},{"p":85},{"p":86},{"p":87}],
"pminor":[{"p":41.5},{"p":42.5},{"p":43.5},{"p":44.5},{"p":45.5},{"p":46.5},{"p":47.5},{"p":48.5},{"p":49.5},{"p":50.5},{"p":51.5},{"p":52.5},{"p":53.5},{"p":54.5},{"p":55.5},{"p":56.5},{"p":57.5},{"p":58.5},{"p":59.5},{"p":60.5},{"p":61.5},{"p":62.5},{"p":63.5},{"p":64.5},{"p":65.5},{"p":66.5},{"p":67.5},{"p":68.5},{"p":69.5},{"p":70.5},{"p":71.5},{"p":72.5},{"p":73.5},{"p":74.5},{"p":75.5},{"p":76.5},{"p":77.5},{"p":78.5},{"p":79.5},{"p":80.5},{"p":81.5},{"p":82.5},{"p":83.5},{"p":84.5},{"p":85.5},{"p":86.5},{"p":87.5}],
"vticks":[{"v":100000,"label":"100 000"},{"v":200000,"label":"200 000"},{"v":300000,"label":"300 000"},{"v":400000,"label":"400 000"},{"v":500000,"label":"500 000"}],
"vminor":[{"v":50000},{"v":150000},{"v":250000},{"v":350000},{"v":450000},{"v":550000}],
"days":[{"k":0,"d":"6"},{"k":1,"d":"15"},{"k":2,"d":"23"},{"k":3,"d":"1"},{"k":4,"d":"11"},{"k":5,"d":"19"},{"k":6,"d":"27"},{"k":7,"d":"8"},{"k":8,"d":"16"},{"k":9,"d":"24"},{"k":10,"d":"1"},{"k":11,"d":"9"},{"k":12,"d":"19"},{"k":13,"d":"28"},{"k":14,"d":"7"},{"k":15,"d":"18"},{"k":16,"d":"26"},{"k":17,"d":"3"},{"k":18,"d":"11"},{"k":19,"d":"19"},{"k":20,"d":"27"},{"k":21,"d":"7"},{"k":22,"d":"16"},{"k":23,"d":"24"},{"k":24,"d":"3"},{"k":25,"d":"11"},{"k":26,"d":"20"},{"k":27,"d":"28"},{"k":28,"d":"8"},{"k":29,"d":"16"},{"k":30,"d":"24"},{"k":31,"d":"1"},{"k":32,"d":"9"},{"k":33,"d":"19"},{"k":34,"d":"27"},{"k":35,"d":"4"},{"k":36,"d":"12"},{"k":37,"d":"20"},{"k":38,"d":"30"}],
"months":[{"k":0,"m":"2023"},{"k":3,"m":"Dec"},{"k":6.52,"m":"2024"},{"k":10,"m":"Feb"},{"k":13.33,"m":"Mar"},{"k":16.67,"m":"Apr"},{"k":20.5,"m":"May"},{"k":24,"m":"Jun"},{"k":27.17,"m":"Jul"},{"k":31,"m":"Aug"},{"k":34.67,"m":"Sep"},{"k":38.15,"m":"Oct"}],
"lastp":[{"p":57.74,"label":"57,74"}],
"lastv":[{"v":11740,"label":"11 740"}],
"one":[{"x":1}]
},
"layer":[
{"layer":[
{"data":{"name":"pticks"},"mark":{"type":"rule","color":"#000","strokeWidth":1,"strokeDash":[3,2]},"encoding":{"x":{"datum":0,"type":"quantitative","scale":{"domain":[-1.2505,39.7713],"nice":false,"zero":false},"axis":null},"x2":{"datum":38.714},"y":{"field":"p","type":"quantitative","scale":{"domain":[28.072,88.138],"nice":false,"zero":false},"axis":null}}},
{"data":{"name":"days"},"transform":[{"filter":"datum.k > 0"}],"mark":{"type":"rule","color":"#000","strokeWidth":1,"strokeDash":[3,2]},"encoding":{"x":{"field":"k","type":"quantitative","scale":{"domain":[-1.2505,39.7713],"nice":false,"zero":false},"axis":null},"y":{"datum":41.099,"type":"quantitative","scale":{"domain":[28.072,88.138],"nice":false,"zero":false},"axis":null},"y2":{"datum":87.724}}},
{"data":{"name":"price"},"mark":{"type":"line","color":"#000","strokeWidth":1.6},"encoding":{"x":{"field":"k","type":"quantitative","scale":{"domain":[-1.2505,39.7713],"nice":false,"zero":false},"axis":null},"y":{"field":"p","type":"quantitative","scale":{"domain":[28.072,88.138],"nice":false,"zero":false},"axis":null}}},
{"data":{"name":"ma"},"mark":{"type":"line","color":"#FF0000","strokeWidth":1.2},"encoding":{"x":{"field":"k","type":"quantitative","scale":{"domain":[-1.2505,39.7713],"nice":false,"zero":false},"axis":null},"y":{"field":"m","type":"quantitative","scale":{"domain":[28.072,88.138],"nice":false,"zero":false},"axis":null}}},
{"data":{"name":"one"},"mark":{"type":"rect","fillOpacity":0,"stroke":"#000","strokeWidth":2},"encoding":{"x":{"datum":0,"type":"quantitative","scale":{"domain":[-1.2505,39.7713],"nice":false,"zero":false},"axis":null},"x2":{"datum":38.714},"y":{"datum":41.099,"type":"quantitative","scale":{"domain":[28.072,88.138],"nice":false,"zero":false},"axis":null},"y2":{"datum":87.724}}},
{"data":{"name":"pticks"},"mark":{"type":"rule","color":"#000","strokeWidth":1},"encoding":{"x":{"datum":-0.171,"type":"quantitative","scale":{"domain":[-1.2505,39.7713],"nice":false,"zero":false},"axis":null},"x2":{"datum":0},"y":{"field":"p","type":"quantitative","scale":{"domain":[28.072,88.138],"nice":false,"zero":false},"axis":null}}},
{"data":{"name":"pticks"},"mark":{"type":"rule","color":"#000","strokeWidth":1},"encoding":{"x":{"datum":38.714,"type":"quantitative","scale":{"domain":[-1.2505,39.7713],"nice":false,"zero":false},"axis":null},"x2":{"datum":38.827},"y":{"field":"p","type":"quantitative","scale":{"domain":[28.072,88.138],"nice":false,"zero":false},"axis":null}}},
{"data":{"name":"pminor"},"mark":{"type":"rule","color":"#000","strokeWidth":1},"encoding":{"x":{"datum":-0.064,"type":"quantitative","scale":{"domain":[-1.2505,39.7713],"nice":false,"zero":false},"axis":null},"x2":{"datum":0},"y":{"field":"p","type":"quantitative","scale":{"domain":[28.072,88.138],"nice":false,"zero":false},"axis":null}}},
{"data":{"name":"pminor"},"mark":{"type":"rule","color":"#000","strokeWidth":1},"encoding":{"x":{"datum":38.714,"type":"quantitative","scale":{"domain":[-1.2505,39.7713],"nice":false,"zero":false},"axis":null},"x2":{"datum":38.775},"y":{"field":"p","type":"quantitative","scale":{"domain":[28.072,88.138],"nice":false,"zero":false},"axis":null}}},
{"data":{"name":"pticks"},"mark":{"type":"text","align":"right","baseline":"middle"},"encoding":{"x":{"datum":-0.19,"type":"quantitative","scale":{"domain":[-1.2505,39.7713],"nice":false,"zero":false},"axis":null},"y":{"field":"p","type":"quantitative","scale":{"domain":[28.072,88.138],"nice":false,"zero":false},"axis":null},"text":{"field":"p","type":"quantitative"}}},
{"data":{"name":"pticks"},"transform":[{"filter":"datum.p != 58"}],"mark":{"type":"text","align":"left","baseline":"middle"},"encoding":{"x":{"datum":38.873,"type":"quantitative","scale":{"domain":[-1.2505,39.7713],"nice":false,"zero":false},"axis":null},"y":{"field":"p","type":"quantitative","scale":{"domain":[28.072,88.138],"nice":false,"zero":false},"axis":null},"text":{"field":"p","type":"quantitative"}}},
{"data":{"name":"lastp"},"mark":{"type":"rect","fill":"#639E92","stroke":"#000","strokeWidth":1},"encoding":{"x":{"datum":38.816,"type":"quantitative","scale":{"domain":[-1.2505,39.7713],"nice":false,"zero":false},"axis":null},"x2":{"datum":39.509},"y":{"datum":57.22,"type":"quantitative","scale":{"domain":[28.072,88.138],"nice":false,"zero":false},"axis":null},"y2":{"datum":58.25}}},
{"data":{"name":"lastp"},"mark":{"type":"text","align":"left","baseline":"middle","fontSize":12},"encoding":{"x":{"datum":38.868,"type":"quantitative","scale":{"domain":[-1.2505,39.7713],"nice":false,"zero":false},"axis":null},"y":{"field":"p","type":"quantitative","scale":{"domain":[28.072,88.138],"nice":false,"zero":false},"axis":null},"text":{"field":"label"}}},
{"data":{"name":"one"},"mark":{"type":"rule","color":"#000","strokeWidth":1},"encoding":{"x":{"datum":-0.716,"type":"quantitative","scale":{"domain":[-1.2505,39.7713],"nice":false,"zero":false},"axis":null},"x2":{"datum":-0.395},"y":{"datum":40.224,"type":"quantitative","scale":{"domain":[28.072,88.138],"nice":false,"zero":false},"axis":null}}},
{"data":{"name":"one"},"mark":{"type":"rule","color":"#FF0000","strokeWidth":1.5},"encoding":{"x":{"datum":2.085,"type":"quantitative","scale":{"domain":[-1.2505,39.7713],"nice":false,"zero":false},"axis":null},"x2":{"datum":2.406},"y":{"datum":40.224,"type":"quantitative","scale":{"domain":[28.072,88.138],"nice":false,"zero":false},"axis":null}}},
{"data":{"values":[{"s":"Селигдар [Price]"}]},"mark":{"type":"text","align":"left","baseline":"middle","fontSize":11.5},"encoding":{"x":{"datum":-0.167,"type":"quantitative","scale":{"domain":[-1.2505,39.7713],"nice":false,"zero":false},"axis":null},"y":{"datum":40.224,"type":"quantitative","scale":{"domain":[28.072,88.138],"nice":false,"zero":false},"axis":null},"text":{"field":"s"}}},
{"data":{"values":[{"s":"Селигдар [Moving Average]"}]},"mark":{"type":"text","align":"left","baseline":"middle","fontSize":11.5},"encoding":{"x":{"datum":2.634,"type":"quantitative","scale":{"domain":[-1.2505,39.7713],"nice":false,"zero":false},"axis":null},"y":{"datum":40.224,"type":"quantitative","scale":{"domain":[28.072,88.138],"nice":false,"zero":false},"axis":null},"text":{"field":"s"}}},
{"data":{"name":"one"},"mark":{"type":"rule","color":"#FFFFFF","strokeWidth":2},"encoding":{"x":{"datum":-1.2505,"type":"quantitative","scale":{"domain":[-1.2505,39.7713],"nice":false,"zero":false},"axis":null},"x2":{"datum":39.7713},"y":{"datum":39.684,"type":"quantitative","scale":{"domain":[28.072,88.138],"nice":false,"zero":false},"axis":null}}},
{"data":{"name":"one"},"mark":{"type":"rule","color":"#A8A8A8","strokeWidth":1},"encoding":{"x":{"datum":-1.2505,"type":"quantitative","scale":{"domain":[-1.2505,39.7713],"nice":false,"zero":false},"axis":null},"x2":{"datum":39.7713},"y":{"datum":39.55,"type":"quantitative","scale":{"domain":[28.072,88.138],"nice":false,"zero":false},"axis":null}}}
]},
{"layer":[
{"data":{"name":"vticks"},"mark":{"type":"rule","color":"#000","strokeWidth":1,"strokeDash":[3,2]},"encoding":{"x":{"datum":0,"type":"quantitative","scale":{"domain":[-1.2505,39.7713],"nice":false,"zero":false},"axis":null},"x2":{"datum":38.714},"y":{"field":"v","type":"quantitative","scale":{"domain":[-275377,4312563],"nice":false,"zero":false},"axis":null}}},
{"data":{"name":"days"},"transform":[{"filter":"datum.k > 0"}],"mark":{"type":"rule","color":"#000","strokeWidth":1,"strokeDash":[3,2]},"encoding":{"x":{"field":"k","type":"quantitative","scale":{"domain":[-1.2505,39.7713],"nice":false,"zero":false},"axis":null},"y":{"datum":-5528,"type":"quantitative","scale":{"domain":[-275377,4312563],"nice":false,"zero":false},"axis":null},"y2":{"datum":567334}}},
{"data":{"name":"volbase"},"mark":{"type":"area","color":"#02263A","interpolate":"step-after"},"encoding":{"x":{"field":"k","type":"quantitative","scale":{"domain":[-1.2505,39.7713],"nice":false,"zero":false},"axis":null},"y":{"field":"v","type":"quantitative","scale":{"domain":[-275377,4312563],"nice":false,"zero":false},"axis":null},"y2":{"datum":-5528}}},
{"data":{"name":"volmid"},"mark":{"type":"rule","color":"#02263A","strokeWidth":1.8},"encoding":{"x":{"field":"k","type":"quantitative","scale":{"domain":[-1.2505,39.7713],"nice":false,"zero":false},"axis":null},"y":{"field":"v","type":"quantitative","scale":{"domain":[-275377,4312563],"nice":false,"zero":false},"axis":null},"y2":{"datum":-5528}}},
{"data":{"name":"volspike"},"mark":{"type":"rule","color":"#02263A","strokeWidth":2.2},"encoding":{"x":{"field":"k","type":"quantitative","scale":{"domain":[-1.2505,39.7713],"nice":false,"zero":false},"axis":null},"y":{"field":"v","type":"quantitative","scale":{"domain":[-275377,4312563],"nice":false,"zero":false},"axis":null},"y2":{"datum":-5528}}},
{"data":{"name":"one"},"mark":{"type":"rect","fillOpacity":0,"stroke":"#000","strokeWidth":2},"encoding":{"x":{"datum":0,"type":"quantitative","scale":{"domain":[-1.2505,39.7713],"nice":false,"zero":false},"axis":null},"x2":{"datum":38.714},"y":{"datum":-5528,"type":"quantitative","scale":{"domain":[-275377,4312563],"nice":false,"zero":false},"axis":null},"y2":{"datum":567334}}},
{"data":{"name":"vticks"},"mark":{"type":"rule","color":"#000","strokeWidth":1},"encoding":{"x":{"datum":-0.171,"type":"quantitative","scale":{"domain":[-1.2505,39.7713],"nice":false,"zero":false},"axis":null},"x2":{"datum":0},"y":{"field":"v","type":"quantitative","scale":{"domain":[-275377,4312563],"nice":false,"zero":false},"axis":null}}},
{"data":{"name":"vticks"},"mark":{"type":"rule","color":"#000","strokeWidth":1},"encoding":{"x":{"datum":38.714,"type":"quantitative","scale":{"domain":[-1.2505,39.7713],"nice":false,"zero":false},"axis":null},"x2":{"datum":38.827},"y":{"field":"v","type":"quantitative","scale":{"domain":[-275377,4312563],"nice":false,"zero":false},"axis":null}}},
{"data":{"name":"vminor"},"mark":{"type":"rule","color":"#000","strokeWidth":1},"encoding":{"x":{"datum":-0.064,"type":"quantitative","scale":{"domain":[-1.2505,39.7713],"nice":false,"zero":false},"axis":null},"x2":{"datum":0},"y":{"field":"v","type":"quantitative","scale":{"domain":[-275377,4312563],"nice":false,"zero":false},"axis":null}}},
{"data":{"name":"vminor"},"mark":{"type":"rule","color":"#000","strokeWidth":1},"encoding":{"x":{"datum":38.714,"type":"quantitative","scale":{"domain":[-1.2505,39.7713],"nice":false,"zero":false},"axis":null},"x2":{"datum":38.775},"y":{"field":"v","type":"quantitative","scale":{"domain":[-275377,4312563],"nice":false,"zero":false},"axis":null}}},
{"data":{"name":"vticks"},"mark":{"type":"text","align":"right","baseline":"middle"},"encoding":{"x":{"datum":-0.19,"type":"quantitative","scale":{"domain":[-1.2505,39.7713],"nice":false,"zero":false},"axis":null},"y":{"field":"v","type":"quantitative","scale":{"domain":[-275377,4312563],"nice":false,"zero":false},"axis":null},"text":{"field":"label"}}},
{"data":{"name":"vticks"},"mark":{"type":"text","align":"left","baseline":"middle"},"encoding":{"x":{"datum":38.873,"type":"quantitative","scale":{"domain":[-1.2505,39.7713],"nice":false,"zero":false},"axis":null},"y":{"field":"v","type":"quantitative","scale":{"domain":[-275377,4312563],"nice":false,"zero":false},"axis":null},"text":{"field":"label"}}},
{"data":{"name":"lastv"},"mark":{"type":"rect","fill":"#639E92","stroke":"#000","strokeWidth":1},"encoding":{"x":{"datum":38.84,"type":"quantitative","scale":{"domain":[-1.2505,39.7713],"nice":false,"zero":false},"axis":null},"x2":{"datum":39.63},"y":{"datum":-19095,"type":"quantitative","scale":{"domain":[-275377,4312563],"nice":false,"zero":false},"axis":null},"y2":{"datum":47739}}},
{"data":{"name":"lastv"},"mark":{"type":"text","align":"left","baseline":"middle","fontSize":12},"encoding":{"x":{"datum":38.9,"type":"quantitative","scale":{"domain":[-1.2505,39.7713],"nice":false,"zero":false},"axis":null},"y":{"datum":14300,"type":"quantitative","scale":{"domain":[-275377,4312563],"nice":false,"zero":false},"axis":null},"text":{"field":"label"}}},
{"data":{"name":"one"},"mark":{"type":"rule","color":"#02263A","strokeWidth":3.5,"strokeCap":"round"},"encoding":{"x":{"datum":-0.7,"type":"quantitative","scale":{"domain":[-1.2505,39.7713],"nice":false,"zero":false},"axis":null},"x2":{"datum":-0.37},"y":{"datum":-70854,"type":"quantitative","scale":{"domain":[-275377,4312563],"nice":false,"zero":false},"axis":null}}},
{"data":{"values":[{"s":"Селигдар [Volume]"}]},"mark":{"type":"text","align":"left","baseline":"middle","fontSize":11.5},"encoding":{"x":{"datum":-0.167,"type":"quantitative","scale":{"domain":[-1.2505,39.7713],"nice":false,"zero":false},"axis":null},"y":{"datum":-70854,"type":"quantitative","scale":{"domain":[-275377,4312563],"nice":false,"zero":false},"axis":null},"text":{"field":"s"}}},
{"data":{"name":"one"},"mark":{"type":"rect","fillOpacity":0,"stroke":"#000","strokeWidth":1.5},"encoding":{"x":{"datum":0,"type":"quantitative","scale":{"domain":[-1.2505,39.7713],"nice":false,"zero":false},"axis":null},"x2":{"datum":38.69},"y":{"datum":-266833,"type":"quantitative","scale":{"domain":[-275377,4312563],"nice":false,"zero":false},"axis":null},"y2":{"datum":-116080}}},
{"data":{"name":"one"},"mark":{"type":"rule","color":"#000","strokeWidth":1.5},"encoding":{"x":{"datum":0,"type":"quantitative","scale":{"domain":[-1.2505,39.7713],"nice":false,"zero":false},"axis":null},"x2":{"datum":38.69},"y":{"datum":-189946,"type":"quantitative","scale":{"domain":[-275377,4312563],"nice":false,"zero":false},"axis":null}}},
{"data":{"name":"days"},"mark":{"type":"rule","color":"#000","strokeWidth":1.5},"encoding":{"x":{"field":"k","type":"quantitative","scale":{"domain":[-1.2505,39.7713],"nice":false,"zero":false},"axis":null},"y":{"datum":-116080,"type":"quantitative","scale":{"domain":[-275377,4312563],"nice":false,"zero":false},"axis":null},"y2":{"datum":-189946}}},
{"data":{"name":"months"},"mark":{"type":"rule","color":"#000","strokeWidth":1.5},"encoding":{"x":{"field":"k","type":"quantitative","scale":{"domain":[-1.2505,39.7713],"nice":false,"zero":false},"axis":null},"y":{"datum":-189946,"type":"quantitative","scale":{"domain":[-275377,4312563],"nice":false,"zero":false},"axis":null},"y2":{"datum":-266833}}},
{"data":{"name":"days"},"mark":{"type":"text","align":"left","baseline":"middle","dx":4,"fontSize":12},"encoding":{"x":{"field":"k","type":"quantitative","scale":{"domain":[-1.2505,39.7713],"nice":false,"zero":false},"axis":null},"y":{"datum":-153768,"type":"quantitative","scale":{"domain":[-275377,4312563],"nice":false,"zero":false},"axis":null},"text":{"field":"d"}}},
{"data":{"name":"months"},"mark":{"type":"text","align":"left","baseline":"middle","dx":4,"fontSize":12},"encoding":{"x":{"field":"k","type":"quantitative","scale":{"domain":[-1.2505,39.7713],"nice":false,"zero":false},"axis":null},"y":{"datum":-230150,"type":"quantitative","scale":{"domain":[-275377,4312563],"nice":false,"zero":false},"axis":null},"text":{"field":"m"}}}
]}
],
"resolve":{"scale":{"y":"independent"}}
}
